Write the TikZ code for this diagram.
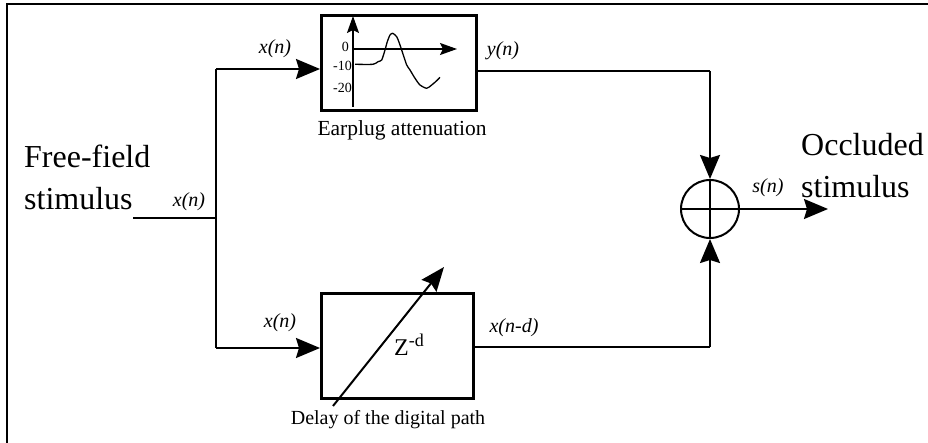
\documentclass[tikz,border=0pt]{standalone}
\usepackage{fontspec}
\setmainfont{Liberation Serif}
\usetikzlibrary{arrows.meta}
\begin{document}
\begin{tikzpicture}[x=1pt,y=-1pt,
  conn/.style={line width=2pt},
  big/.style={-{Stealth[length=24pt,width=20pt,inset=3pt]}},
  small/.style={-{Stealth[length=17pt,width=12pt,inset=3pt]}},
  blk/.style={draw,line width=3pt,inner sep=0pt,anchor=north west},
  sig/.style={font=\fontsize{20}{22}\selectfont\itshape,inner sep=0pt},
  lbl/.style={font=\fontsize{20}{22}\selectfont,inner sep=0pt},
  tick/.style={font=\fontsize{14}{16}\selectfont,inner sep=0pt,anchor=east},
  title/.style={font=\fontsize{32}{42}\selectfont,inner sep=0pt,align=left,anchor=base west},
]
\useasboundingbox (0,0) rectangle (928,443);
\draw[line width=1.5pt] (7,443) -- (7,4) -- (928,4);

% blocks
\node[blk,minimum width=155pt,minimum height=95pt] (top) at (320,14) {};
\node[blk,minimum width=152pt,minimum height=105pt] (bot) at (320,292) {};
\node[draw,circle,line width=2pt,minimum size=58pt,inner sep=0pt] (sum) at (710,209) {};
\draw[line width=2pt] (sum.north) -- (sum.south) (sum.west) -- (sum.east);

% chart inside the earplug block
\coordinate (vb) at (353,107);
\coordinate (vt) at (353,16);
\coordinate (ho) at (353,49);
\coordinate (he) at (457,49);
\draw[line width=1.3pt,small] (vb) -- (vt);
\draw[line width=1.3pt,small] (ho) -- (he);
\node[tick] (t0) at (349,47) {0};
\node[tick] (t10) at (352,66) {-10};
\node[tick] (t20) at (352,88) {-20};
\draw[line width=1.3pt,line join=round] plot[smooth,tension=0.4] coordinates {
 (355,64.3) (373,64.3) (378,61.7) (381.7,60) (385,50) (387.3,41.7) (390,35)
 (392.7,33.3) (396.7,36.7) (400,45) (403.3,55) (406.7,65) (410,70) (415,78.3)
 (420,85) (426.7,88.3) (431.7,85) (436.7,80.7) (440,77.3)};

% connectors
\coordinate (in) at (133,218);
\coordinate (j) at (216,218);
\coordinate (jt) at (216,69);
\coordinate (jb) at (216,348);
\coordinate (tc) at (710,71);
\coordinate (bc) at (710,347);
\coordinate (out) at (828,209);
\coordinate (da) at (333,406);
\coordinate (db) at (444,267);
\draw[conn] (in) -- (j);
\draw[conn] (jt) -- (jb);
\draw[conn,big] (jt) -- (top.west |- jt);
\draw[conn,big] (jb) -- (bot.west |- jb);
\draw[conn] (top.east |- tc) -- (tc);
\draw[conn,big] (tc) -- (sum.north);
\draw[conn] (bot.east |- bc) -- (bc);
\draw[conn,big] (bc) -- (sum.south);
\draw[conn,big] (sum.east) -- (out);
\draw[conn,-{Stealth[length=24pt,width=19pt,inset=3pt]}] (da) -- (db);

% labels
\node[sig] (lxin) at (189,202) {x(n)};
\node[sig] (lxt) at (275,49) {x(n)};
\node[sig] (lxb) at (280,323) {x(n)};
\node[sig] (ly) at (503,51) {y(n)};
\node[sig] (lxd) at (514,328) {x(n-d)};
\node[sig] (ls) at (768,188) {s(n)};
\node[lbl,font=\fontsize{21.5}{24}\selectfont] (lear) at (402,130) {Earplug attenuation};
\node[lbl] (ldel) at (388,420) {Delay of the digital path};
\node[lbl,anchor=base west] (lz) at (394,355) {\fontsize{24}{26}\selectfont Z\raisebox{9pt}{\fontsize{18}{20}\selectfont -d}};
\node[title] (lfree) at (24,210) {Free-field\\stimulus};
\node[title] (locc) at (801,198) {Occluded\\stimulus};
\end{tikzpicture}
\end{document}
